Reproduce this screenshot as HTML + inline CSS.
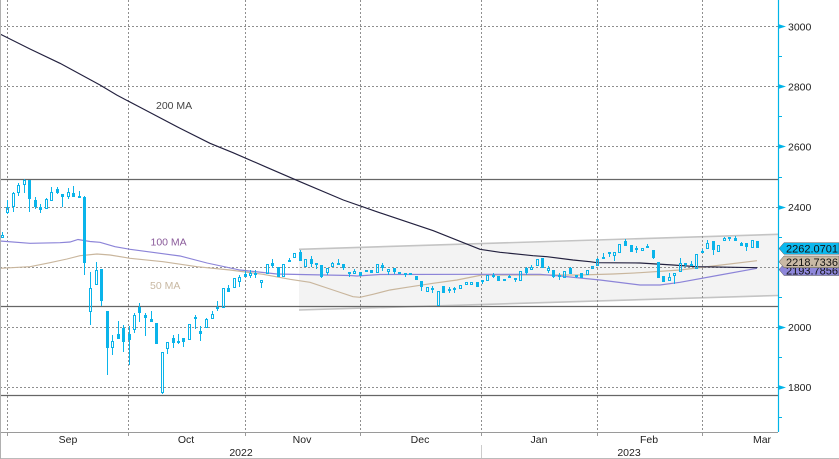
<!DOCTYPE html>
<html><head><meta charset="utf-8"><style>
html,body{margin:0;padding:0;background:#fff;}
svg{display:block;}
text{font-family:"Liberation Sans","DejaVu Sans",sans-serif;}
</style></head><body>
<svg width="839" height="459" viewBox="0 0 839 459" xmlns="http://www.w3.org/2000/svg">
<rect x="0" y="0" width="839" height="459" fill="#fff"/>
<!-- channel -->
<polygon points="299,249.3 778,234.3 778,295.5 299,310" fill="#f3f3f3"/>
<line x1="299" y1="249.3" x2="778" y2="234.3" stroke="#c4c4c4" stroke-width="1.6"/>
<line x1="299" y1="310" x2="778" y2="295.5" stroke="#c4c4c4" stroke-width="1.6"/>
<!-- grid -->
<g stroke="#8f8f8f" stroke-width="1" stroke-dasharray="2,2" fill="none">
<path d="M0 26.5H778M0 86.5H778M0 146.5H778M0 207.5H778M0 267.5H778M0 327.5H778M0 387.5H778"/>
<path d="M7.5 0V432M128.5 0V432M245.5 0V432M360.5 0V432M481.5 0V432M597.5 0V432M702.5 0V432"/>
</g>
<g stroke="#666" stroke-width="1.2">
<line x1="0" y1="179.5" x2="778" y2="179.5"/>
<line x1="0" y1="306.5" x2="778" y2="306.5"/>
<line x1="0" y1="395.5" x2="778" y2="395.5"/>
</g>
<!-- moving averages -->
<polyline fill="none" stroke="#c9b69d" stroke-width="1.15" points="0,268.3 30,266.7 50,262.7 67,259 80,255.7 97,254 110,255 130,258.3 163,261.7 197,266.7 230,270 263,274.3 290,279.3 310,282.3 333,290 353,296.7 360,297.3 373,294.3 390,290 407,287.3 433,283.3 457,280 482,275 513,275 580,275 613,274 640,272.7 680,270 713,266 757,260.7"/>
<polyline fill="none" stroke="#8c84d8" stroke-width="1.15" points="0,241 30,243.3 60,242.7 70,242 78,239.5 90,241.5 100,242.3 115,246.7 130,249.3 180,256 207,263 240,270 277,274 300,274.5 350,275.5 357,276 380,274.5 480,274.3 540,274.3 560,276 600,280 640,285 660,285 680,282.3 720,275 757,268.3"/>
<polyline fill="none" stroke="#23213f" stroke-width="1.15" points="0,34 30,49 60,63.3 100,85 116.7,95 140,107.3 180,128.3 210,143.3 233,152.7 266.7,167.3 300,181.7 343.3,200 376.7,211.7 433.3,230.7 480,249.3 500,252.3 533,255.7 547,256.7 573,260 590,261.7 597,262.7 640,263 673,265 697,266.7 757,267.7"/>
<!-- candles -->
<g stroke="#0ab4ea" stroke-width="1" fill="none">
<path d="M2.5 232V235M7.5 200V207M7.5 213V214M13.5 192V193M13.5 207V212M18.5 183V185M18.5 193V196M24.5 179V180M24.5 185V193M29.5 199V212M35.5 197V200M35.5 207V209M40.5 204V207M40.5 210V213M46.5 198V199M51.5 187V192M57.5 187V189M57.5 193V194M62.5 197V207M68.5 188V192M68.5 197V199M73.5 186V193M79.5 191V196M84.5 196V197M84.5 263V275M90.5 272V288M90.5 312V325M96.5 262V270M101.5 301V306M107.5 348V375M112.5 335V341M112.5 348V355M118.5 321V334M123.5 325V328M123.5 342V352M129.5 326V334M129.5 340V365M134.5 313V315M134.5 330V333M139.5 303V307M139.5 313V322M145.5 313V315M145.5 318V336M151.5 311V319M162.5 393V394M167.5 349V354M173.5 335V338M173.5 343V348M178.5 334V341M178.5 343V344M183.5 342V347M195.5 315V317M195.5 319V329M200.5 326V331M200.5 334V341M206.5 318V319M212.5 311V314M217.5 301V307M217.5 309V311M228.5 285V288M239.5 275V277M239.5 282V287M245.5 271V274M250.5 270V273M250.5 276V278M255.5 270V273M255.5 275V278M261.5 283V288M272.5 259V263M272.5 266V268M289.5 258V260M300.5 250V252M311.5 256V259M311.5 264V267M316.5 265V269M321.5 277V278M327.5 273V275M332.5 262V263M338.5 259V263M343.5 268V270M349.5 272V273M349.5 274V277M354.5 269V271M382.5 263V265M382.5 268V271M388.5 272V275M394.5 272V274M405.5 275V277M421.5 287V291M432.5 286V288M432.5 290V293M449.5 287V289M449.5 291V293M454.5 287V288M454.5 290V293M482.5 282V284M493.5 273V275M493.5 277V278M509.5 275V276M515.5 280V282M526.5 267V268M526.5 273V275M531.5 265V267M548.5 266V268M548.5 271V273M553.5 277V278M559.5 273V275M559.5 277V280M570.5 267V268M576.5 277V278M597.5 258V259M603.5 253V257M609.5 254V257M614.5 256V261M625.5 239V241M636.5 246V248M636.5 250V253M647.5 244V246M653.5 258V259M669.5 273V277M674.5 276V284M680.5 258V263M685.5 265V267M691.5 261V264M702.5 249V251M707.5 240V243M713.5 250V255M724.5 237V238M729.5 239V241M735.5 236V238M741.5 242V243M746.5 247V251"/>
<path d="M1.5 235.5h2V237.5h-2zM6.5 207.5h2V212.5h-2zM12.5 193.5h2V206.5h-2zM17.5 185.5h2V192.5h-2zM23.5 180.5h2V184.5h-2zM45.5 199.5h2V208.5h-2zM50.5 192.5h2V200.5h-2zM67.5 192.5h2V196.5h-2zM89.5 288.5h2V311.5h-2zM95.5 270.5h2V284.5h-2zM111.5 341.5h2V347.5h-2zM133.5 315.5h2V329.5h-2zM161.5 352.5h2V392.5h-2zM166.5 342.5h2V348.5h-2zM188.5 324.5h2V339.5h-2zM205.5 319.5h2V327.5h-2zM211.5 314.5h2V318.5h-2zM222.5 288.5h2V307.5h-2zM233.5 278.5h2V287.5h-2zM238.5 277.5h2V281.5h-2zM249.5 273.5h2V275.5h-2zM260.5 280.5h2V282.5h-2zM266.5 264.5h2V273.5h-2zM282.5 264.5h2V276.5h-2zM293.5 253.5h2V257.5h-2zM304.5 259.5h2V266.5h-2zM326.5 268.5h2V272.5h-2zM331.5 263.5h2V266.5h-2zM353.5 271.5h2V273.5h-2zM376.5 264.5h2V272.5h-2zM387.5 269.5h2V271.5h-2zM426.5 287.5h2V291.5h-2zM437.5 291.5h2V305.5h-2zM459.5 285.5h2V288.5h-2zM465.5 282.5h2V284.5h-2zM470.5 282.5h2V284.5h-2zM486.5 275.5h2V280.5h-2zM519.5 271.5h2V280.5h-2zM530.5 267.5h2V269.5h-2zM536.5 259.5h2V265.5h-2zM547.5 268.5h2V270.5h-2zM563.5 271.5h2V277.5h-2zM586.5 270.5h2V274.5h-2zM591.5 266.5h2V268.5h-2zM596.5 259.5h2V265.5h-2zM613.5 252.5h2V255.5h-2zM618.5 244.5h2V252.5h-2zM641.5 248.5h2V250.5h-2zM668.5 277.5h2V280.5h-2zM673.5 273.5h2V275.5h-2zM679.5 263.5h2V271.5h-2zM695.5 254.5h2V268.5h-2zM706.5 243.5h2V248.5h-2zM717.5 245.5h2V251.5h-2zM723.5 238.5h2V240.5h-2zM751.5 240.5h2V247.5h-2z"/>
</g>
<path fill="#0ab4ea" d="M28 180h3V199h-3zM34 200h3V207h-3zM39 207h3V210h-3zM56 189h3V193h-3zM61 194h3V197h-3zM72 193h3V197h-3zM78 196h3V198h-3zM83 197h3V263h-3zM100 269h3V301h-3zM106 311h3V348h-3zM117 334h3V339h-3zM122 328h3V342h-3zM128 334h3V340h-3zM138 307h3V313h-3zM144 315h3V318h-3zM150 319h3V322h-3zM155 323h3V344h-3zM172 338h3V343h-3zM177 341h3V343h-3zM182 338h3V342h-3zM194 317h3V319h-3zM199 331h3V334h-3zM216 307h3V309h-3zM227 288h3V292h-3zM244 274h3V277h-3zM254 273h3V275h-3zM271 263h3V266h-3zM277 267h3V277h-3zM288 260h3V262h-3zM299 252h3V261h-3zM310 259h3V264h-3zM315 263h3V265h-3zM320 265h3V277h-3zM337 263h3V265h-3zM342 264h3V268h-3zM348 272h3V274h-3zM359 272h3V276h-3zM365 270h3V272h-3zM370 270h3V273h-3zM381 265h3V268h-3zM393 268h3V272h-3zM398 272h3V274h-3zM404 273h3V275h-3zM409 273h3V275h-3zM415 276h3V280h-3zM420 281h3V287h-3zM431 288h3V290h-3zM442 286h3V293h-3zM448 289h3V291h-3zM453 288h3V290h-3zM476 282h3V287h-3zM481 280h3V282h-3zM492 275h3V277h-3zM497 276h3V281h-3zM503 279h3V281h-3zM508 276h3V278h-3zM514 278h3V280h-3zM525 268h3V273h-3zM541 258h3V268h-3zM552 270h3V277h-3zM558 275h3V277h-3zM569 268h3V274h-3zM575 275h3V277h-3zM580 273h3V278h-3zM602 257h3V259h-3zM608 252h3V254h-3zM624 241h3V246h-3zM630 245h3V252h-3zM635 248h3V250h-3zM646 246h3V248h-3zM652 250h3V258h-3zM657 262h3V278h-3zM662 276h3V282h-3zM684 263h3V265h-3zM690 264h3V266h-3zM701 251h3V253h-3zM712 241h3V250h-3zM728 237h3V239h-3zM734 238h3V241h-3zM740 243h3V246h-3zM745 243h3V247h-3zM756 241h3V248h-3z"/>
<!-- MA labels -->
<text x="156" y="109" font-size="10.5" fill="#444">200 MA</text>
<text x="150.5" y="245.5" font-size="10.5" fill="#8a5a9a">100 MA</text>
<text x="150" y="289" font-size="10.5" fill="#c8b8a2">50 MA</text>
<!-- right axis -->
<rect x="779" y="0" width="60" height="432" fill="#fff"/>
<line x1="778.5" y1="0" x2="778.5" y2="432" stroke="#00b4e8" stroke-width="1.2"/>
<g stroke="#00b4e8" stroke-width="1">
<path d="M778 56.5h4M778 116.5h4M778 177.5h4M778 237.5h4M778 297.5h4M778 357.5h4M778 417.5h4"/>
</g>
<g fill="#00b4e8">
<polygon points="778,24 786,26.5 778,29"/>
<polygon points="778,84 786,86.5 778,89"/>
<polygon points="778,144 786,146.5 778,149"/>
<polygon points="778,205 786,207.5 778,210"/>
<polygon points="778,325 786,327.5 778,330"/>
<polygon points="778,385 786,387.5 778,390"/>
</g>
<g font-size="10.5" fill="#222">
<text x="788" y="30.5">3000</text>
<text x="788" y="90.5">2800</text>
<text x="788" y="150.5">2600</text>
<text x="788" y="211">2400</text>
<text x="788" y="331">2000</text>
<text x="788" y="391">1800</text>
</g>
<!-- price labels -->
<polygon points="779,269.5 784,264 839,264 839,275.5 784,275.5" fill="#8e87da" stroke="#555" stroke-width="0.5"/>
<text x="786" y="274.5" font-size="11" fill="#111">2193.7856</text>
<polygon points="779,261.8 784,256 839,256 839,267.7 784,267.7" fill="#c9b9a5" stroke="#555" stroke-width="0.5"/>
<text x="786" y="266" font-size="11" fill="#111">2218.7336</text>
<polygon points="779,248.5 784,242.7 839,242.7 839,254.3 784,254.3" fill="#0cb8ee" stroke="#555" stroke-width="0.5"/>
<text x="786" y="252.7" font-size="11" fill="#111">2262.0701</text>
<!-- bottom axis -->
<line x1="0" y1="432.5" x2="778" y2="432.5" stroke="#9a9a9a" stroke-width="1"/>
<path d="M7.5 432V436M128.5 432V436M245.5 432V436M360.5 432V436M481.5 432V436M597.5 432V436M702.5 432V436" stroke="#9a9a9a" stroke-width="1"/>
<g font-size="10.5" fill="#222" text-anchor="middle">
<text x="68" y="443">Sep</text>
<text x="186" y="443">Oct</text>
<text x="302" y="443">Nov</text>
<text x="420" y="443">Dec</text>
<text x="539" y="443">Jan</text>
<text x="649" y="443">Feb</text>
<text x="762" y="443">Mar</text>
<text x="241" y="456">2022</text>
<text x="629" y="456">2023</text>
</g>
<line x1="481.5" y1="445" x2="481.5" y2="458" stroke="#ccc" stroke-width="1"/>
<line x1="0" y1="458.5" x2="839" y2="458.5" stroke="#bbb" stroke-width="1"/>
<line x1="0.5" y1="0" x2="0.5" y2="459" stroke="#b0b0b0" stroke-width="1"/>
</svg>
</body></html>
